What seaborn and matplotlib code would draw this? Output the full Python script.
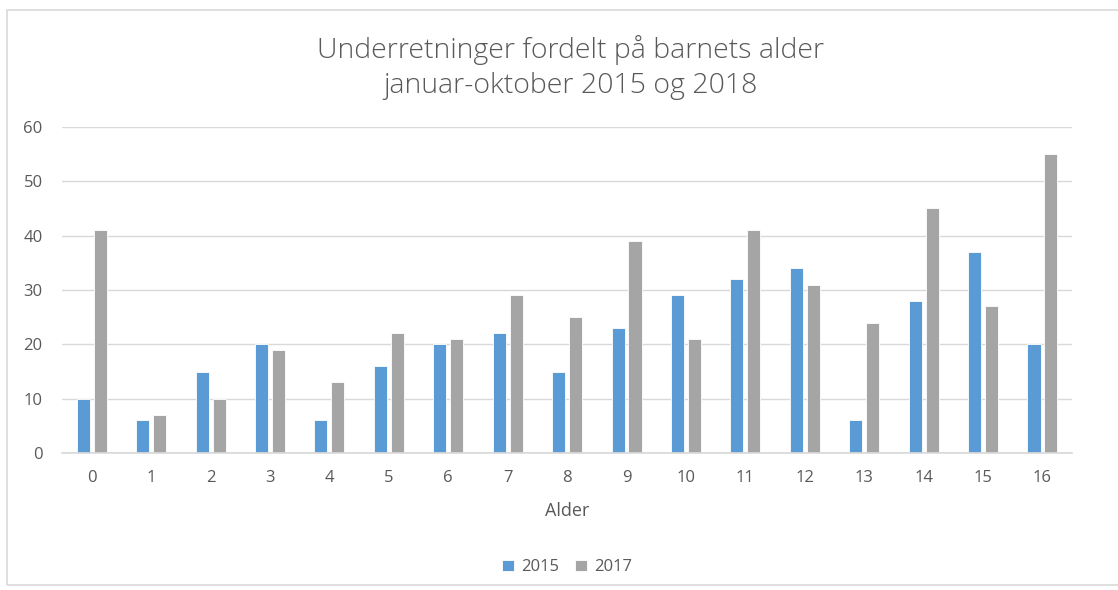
import seaborn as sns
import matplotlib.pyplot as plt
import matplotlib.patches as mpatches
import pandas as pd

alder = list(range(17))
aar = ['2015', '2017']
v2015 = [10, 6, 15, 20, 6, 16, 20, 22, 15, 23, 29, 32, 34, 6, 28, 37, 20]
v2017 = [41, 7, 10, 19, 13, 22, 21, 29, 25, 39, 21, 41, 31, 24, 45, 27, 55]

df = pd.DataFrame({
    'Alder': alder * 2,
    'År': [aar[0]] * 17 + [aar[1]] * 17,
    'Antall': v2015 + v2017,
})

sns.set_theme(style='white')
plt.rcParams['font.family'] = ['Open Sans', 'DejaVu Sans']
tekst = '#595959'

fig = plt.figure(figsize=(11.18, 5.9), dpi=100)
ax = fig.add_axes([0.0555, 0.232, 0.9035, 0.553])

sns.barplot(data=df, x='Alder', y='Antall', hue='År',
            palette={'2015': '#5B9BD5', '2017': '#A5A5A5'}, saturation=1,
            width=0.57, gap=0.23, edgecolor='white', linewidth=0.6,
            ax=ax)

ax.set_ylim(0, 60)
ax.set_yticks(range(0, 61, 10))
ax.yaxis.grid(True, color='#D9D9D9', linewidth=1)
ax.set_axisbelow(True)
for s in ['top', 'right', 'left']:
    ax.spines[s].set_visible(False)
ax.spines['bottom'].set_color('#D9D9D9')
ax.tick_params(axis='both', colors=tekst, labelsize=12, length=0, pad=12)
ax.tick_params(axis='y', pad=14)
ax.set_xlabel('Alder', color=tekst, fontsize=13, labelpad=12)
ax.set_ylabel('')

fig.suptitle('Underretninger fordelt på barnets alder\njanuar-oktober 2015 og 2018',
             x=0.51, y=0.94, color=tekst, fontsize=20.5, linespacing=1.3,
             fontweight='light')

ax.legend(loc='upper center', bbox_to_anchor=(0.5, -0.28), ncol=2, frameon=False,
          fontsize=12, labelcolor=tekst, handlelength=0.7, handleheight=0.7,
          columnspacing=1.0, handletextpad=0.4)

fig.patches.append(mpatches.Rectangle((0.006, 0.008), 1.2, 0.975, transform=fig.transFigure,
                                      fill=False, edgecolor='#D9D9D9', linewidth=1.2))

fig.savefig('out.png', dpi=100)
